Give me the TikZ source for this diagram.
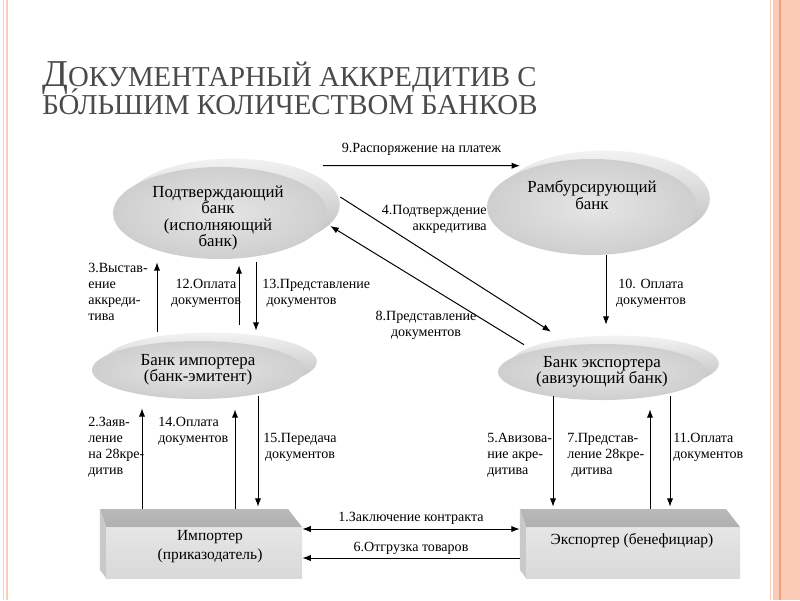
\documentclass[tikz,border=0pt]{standalone}
\usepackage{fontspec}
\setmainfont{Liberation Serif}
\usetikzlibrary{shapes.geometric,shadows,arrows.meta}

\definecolor{slidegray}{HTML}{4A4A4A}
\definecolor{peach}{HTML}{FBCBB6}
\definecolor{peachdark}{HTML}{F0A07C}

\tikzset{
  title/.style={font=\fontsize{20.5}{22}\selectfont, text=slidegray, inner sep=0pt},
  disc/.style={ellipse, inner sep=0pt, align=center,
    font=\fontsize{12}{11.5}\selectfont,
    inner color=gray!20, outer color=gray!38,
    general shadow={shading=axis, top color=gray!10, bottom color=gray!55,
      shadow xshift=0.32cm, shadow yshift=0.21cm}},
  disctext/.style={inner sep=0pt, align=center, font=\fontsize{12}{11.5}\selectfont},
  block/.style={rectangle, minimum height=1.725cm, inner sep=0pt, fill=white,
    path picture={
      \fill[top color=gray!16, bottom color=gray!30]
        ([shift={(0.15cm,-0.45cm)}]path picture bounding box.north west)
        rectangle (path picture bounding box.south east);
      \fill[top color=gray!55, bottom color=gray!62]
        (path picture bounding box.north west)
        -- ([xshift=-0.35cm]path picture bounding box.north east)
        -- ([yshift=-0.45cm]path picture bounding box.north east)
        -- ([shift={(0.15cm,-0.45cm)}]path picture bounding box.north west) -- cycle;
      \fill[gray!42]
        (path picture bounding box.north west)
        -- ([shift={(0.15cm,-0.45cm)}]path picture bounding box.north west)
        -- ([xshift=0.15cm]path picture bounding box.south west)
        -- ([yshift=0.2cm]path picture bounding box.south west) -- cycle;
    }},
  blocktext/.style={inner sep=0pt, align=center, font=\fontsize{11}{13.5}\selectfont},
  note/.style={inner sep=0pt, align=left, font=\fontsize{10}{11.3}\selectfont},
}

\begin{document}
\begin{tikzpicture}[x=0.025cm, y=-0.025cm, >={Latex[length=6pt,width=4.5pt]}]
\useasboundingbox (0,0) rectangle (800,600);

% slide frame
\fill[peach] (773,0) rectangle (800,600);
\draw[peachdark, line width=1pt] (780,0) -- (780,600);
\draw[peach, line width=0.6pt] (770,0) -- (770,600);
\draw[peach, line width=2pt] (7,0) -- (7,600);
\draw[peach, line width=0.5pt] (3.5,0) -- (3.5,600);

% title
\node[title, anchor=base west] (T1) at (42,86) {{\fontsize{27}{27}\selectfont Д}ОКУМЕНТАРНЫЙ АККРЕДИТИВ С};
\node[title, anchor=base west] (T2) at (42,114) {БО́ЛЬШИМ КОЛИЧЕСТВОМ БАНКОВ};

% banks
\begin{scope}[every node/.style={disc}]
  \node[minimum width=5.35cm, minimum height=2.3cm] (CB) at (220,213) {};
  \node[minimum width=5.25cm, minimum height=2.4cm] (RB) at (592,207) {};
  \node[minimum width=5.3cm, minimum height=1.45cm] (IB) at (198,370) {Банк импортера\\(банк-эмитент)};
  \node[minimum width=5.2cm, minimum height=1.4cm] (EB) at (602,372) {Банк экспортера\\(авизующий банк)};
\end{scope}
\node[disctext] (CBT) at (218,218) {Подтверждающий\\банк\\(исполняющий\\банк)};
\node[disctext] (RBT) at (592,195) {Рамбурсирующий\\банк};

% parties
\begin{scope}[every node/.style={block}]
  \node[minimum width=5.05cm] (IMP) at (201,543.5) {};
  \node[minimum width=5.5cm] (EXP) at (630,543.5) {};
\end{scope}
\node[blocktext] (IMPT) at (210,547) {Импортер\\(приказодатель)};
\node[blocktext] (EXPT) at (632,541) {Экспортер (бенефициар)};

% flows
\begin{scope}[every edge/.style={draw=black, line width=0.7pt}]
  \path [->] ([shift={(103,-1)}]CB.north) edge node[note, above=7pt] (L9) {9.Распоряжение на платеж} ([shift={(-72,7)}]RB.north);
  \path [->] ([shift={(13,-16)}]CB.east) edge ([shift={(-51,-12)}]EB.north);
  \path [->] ([shift={(-78,1)}]EB.north) edge ([shift={(3,13)}]CB.east);
  \path [->] ([shift={(-41,-9)}]IB.north) edge ([shift={(-63,3)}]CB.south);
  \path [->] ([shift={(41,-16)}]IB.north) edge ([shift={(19,6)}]CB.south);
  \path [->] ([shift={(36,3)}]CB.south) edge ([shift={(58,-10)}]IB.north);
  \path [->] ([shift={(14,0)}]RB.south) edge ([shift={(4,-19)}]EB.north);
  \path [->] ([shift={(-59,0)}]IMP.north) edge ([shift={(-56,9)}]IB.south);
  \path [->] ([shift={(34,0)}]IMP.north) edge ([shift={(37,10)}]IB.south);
  \path [->] ([shift={(60,-3)}]IB.south) edge ([shift={(57,-2)}]IMP.north);
  \path [->] ([shift={(-49,-4)}]EB.south) edge ([shift={(-77,-2)}]EXP.north);
  \path [->] ([shift={(20,0)}]EXP.north) edge ([shift={(48,9)}]EB.south);
  \path [->] ([shift={(68,-4)}]EB.south) edge ([shift={(40,-2)}]EXP.north);
  \path [<->] ([shift={(0,-14.5)}]IMP.east) edge node[note, above=3pt] (L1) {1.Заключение контракта} ([shift={(0,-14.5)}]EXP.west);
  \path [->] ([shift={(0,14.5)}]EXP.west) edge node[note, above=2pt] (L6) {6.Отгрузка товаров} ([shift={(0,14.5)}]IMP.east);
\end{scope}

% labels
\begin{scope}[every node/.style={note}]
  \node[anchor=north east, align=right] (L4) at (487,205) {4.Подтверждение\\аккредитива};
  \node[anchor=north, align=center] (L8) at (426,311) {8.Представление\\документов};
  \node[anchor=north west] (L3) at (88,263) {3.Выстав-\\ение\\аккреди-\\тива};
  \node[anchor=north, align=center] (L12) at (206,279) {12.Оплата\\документов};
  \node[anchor=north west] (L13) at (262,279) {13.Представление\\\hspace*{3pt}документов};
  \node[anchor=north, align=center] (L10) at (651,279) {10. Оплата\\документов};
  \node[anchor=north west] (L2) at (88,417) {2.Заяв-\\ление\\на 28кре-\\дитив};
  \node[anchor=north west] (L14) at (158,417) {14.Оплата\\документов};
  \node[anchor=north, align=center] (L15) at (300,433) {15.Передача\\документов};
  \node[anchor=north west] (L5) at (487,433) {5.Авизова-\\ние акре-\\дитива};
  \node[anchor=north west] (L7) at (567,433) {7.Представ-\\ление 28кре-\\\hspace*{3pt}дитива};
  \node[anchor=north west] (L11) at (673,433) {11.Оплата\\документов};
\end{scope}
\end{tikzpicture}
\end{document}
